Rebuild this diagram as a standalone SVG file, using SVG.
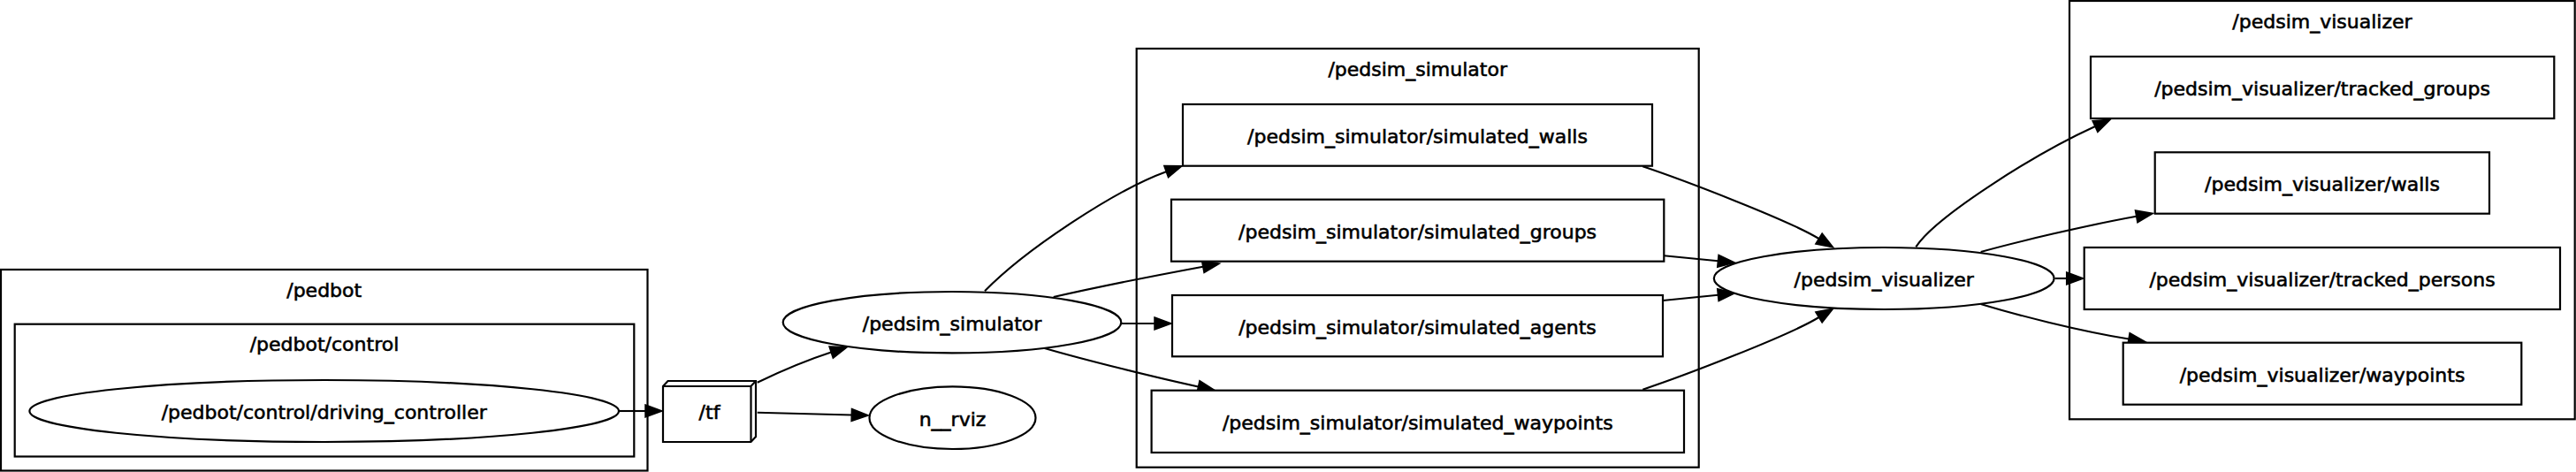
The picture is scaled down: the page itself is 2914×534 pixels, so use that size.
<svg xmlns="http://www.w3.org/2000/svg" width="2914" height="534" viewBox="0 0 2914 534">
<style>
.cl{fill:none;stroke:#000;stroke-width:2.2}
.nd{fill:#fff;stroke:#000;stroke-width:2.2}
.t{font-family:"DejaVu Sans",Verdana,sans-serif;font-size:22px;fill:#000;stroke:#000;stroke-width:0.6;text-anchor:middle}
.e{fill:none;stroke:#000;stroke-width:2.1;marker-end:url(#ah)}
</style>
<defs>
<marker id="ah" markerUnits="userSpaceOnUse" markerWidth="22" markerHeight="18" refX="0" refY="0" orient="auto" overflow="visible">
<path d="M0,-7 L19,0 L0,7 Z" fill="#000" stroke="#000" stroke-width="1.5"/>
</marker>
</defs>
<rect x="0" y="0" width="2914" height="534" fill="#fff"/>

<g id="cluster_pedbot">
<rect class="cl" x="1" y="305" width="731.5" height="227.5"/>
<text class="t" x="366.7" y="335.5">/pedbot</text>
</g>
<g id="cluster_pedbot_control">
<rect class="cl" x="16.7" y="366.7" width="700.6" height="149.8"/>
<text class="t" x="367" y="397">/pedbot/control</text>
</g>
<g id="cluster_pedsim_simulator">
<rect class="cl" x="1285.7" y="55" width="636" height="473.7"/>
<text class="t" x="1603.7" y="85.5">/pedsim_simulator</text>
</g>
<g id="cluster_pedsim_visualizer">
<rect class="cl" x="2341" y="1" width="571.7" height="473.3"/>
<text class="t" x="2627" y="32">/pedsim_visualizer</text>
</g>

<g id="connectors">
<path class="e" d="M700,465 L730,465"/>
<path class="e" d="M856.7,432.7 C875,424 905,410 940.2,398.6"/>
<path class="e" d="M856.7,466.7 L963.3,469.5"/>
<path class="e" d="M1114,329.3 C1160,282 1262.8,214.6 1319.2,194.2"/>
<path class="e" d="M1191.7,336 C1240,325 1300,313 1360.8,301.7"/>
<path class="e" d="M1268.5,366 L1306,366"/>
<path class="e" d="M1181.7,394 C1230,408 1310,427.7 1355.5,437.5"/>
<path class="e" d="M1858.3,188.3 C1903.3,203.3 2023.4,249.1 2057.5,270"/>
<path class="e" d="M1882.3,289.3 L1943.4,295.3"/>
<path class="e" d="M1881,340 L1943.4,333.7"/>
<path class="e" d="M1858.3,440.7 C1903.3,425.7 2023.4,379.9 2057.5,359"/>
<path class="e" d="M2167.3,279.3 C2190,245 2300,175 2370,143"/>
<path class="e" d="M2240.7,285 C2280,274 2360,255 2416.7,244.8"/>
<path class="e" d="M2324.5,315 L2337.7,315"/>
<path class="e" d="M2240.7,344 C2280,356 2350,374 2408,383.5"/>
</g>

<g id="node_driving_controller">
<ellipse class="nd" cx="366.7" cy="465" rx="333.3" ry="35"/>
<text class="t" x="366.7" y="474">/pedbot/control/driving_controller</text>
</g>
<g id="node_tf">
<path class="nd" d="M750,437 L755.5,431 L855,431 L855,494 L849.5,500 L750,500 Z"/>
<path class="cl" d="M750,437 L849.5,437 L855,431 M849.5,437 L849.5,500"/>
<text class="t" x="802.5" y="474">/tf</text>
</g>
<g id="node_pedsim_simulator">
<ellipse class="nd" cx="1077" cy="364.7" rx="191.3" ry="34.7"/>
<text class="t" x="1077" y="373.7">/pedsim_simulator</text>
</g>
<g id="node_n__rviz">
<ellipse class="nd" cx="1077.5" cy="472.7" rx="94" ry="35.3"/>
<text class="t" x="1077.5" y="481.7">n__rviz</text>
</g>
<g id="node_simulated_walls">
<rect class="nd" x="1338" y="118" width="531" height="69.7"/>
<text class="t" x="1603.5" y="161.8">/pedsim_simulator/simulated_walls</text>
</g>
<g id="node_simulated_groups">
<rect class="nd" x="1325" y="225.7" width="557.3" height="70"/>
<text class="t" x="1603.6" y="269.7">/pedsim_simulator/simulated_groups</text>
</g>
<g id="node_simulated_agents">
<rect class="nd" x="1326" y="334" width="555" height="69.3"/>
<text class="t" x="1603.5" y="377.7">/pedsim_simulator/simulated_agents</text>
</g>
<g id="node_simulated_waypoints">
<rect class="nd" x="1302.6" y="441.7" width="602.4" height="70.3"/>
<text class="t" x="1603.8" y="485.8">/pedsim_simulator/simulated_waypoints</text>
</g>
<g id="node_pedsim_visualizer">
<ellipse class="nd" cx="2131.2" cy="315" rx="192.4" ry="35"/>
<text class="t" x="2131.2" y="324">/pedsim_visualizer</text>
</g>
<g id="node_tracked_groups">
<rect class="nd" x="2365" y="64" width="524.3" height="70"/>
<text class="t" x="2627" y="108">/pedsim_visualizer/tracked_groups</text>
</g>
<g id="node_vis_walls">
<rect class="nd" x="2437.7" y="172.3" width="378.3" height="69.4"/>
<text class="t" x="2627" y="216">/pedsim_visualizer/walls</text>
</g>
<g id="node_tracked_persons">
<rect class="nd" x="2357.7" y="280" width="538.3" height="70"/>
<text class="t" x="2627" y="324">/pedsim_visualizer/tracked_persons</text>
</g>
<g id="node_vis_waypoints">
<rect class="nd" x="2401.7" y="387.7" width="450.6" height="70"/>
<text class="t" x="2627" y="431.7">/pedsim_visualizer/waypoints</text>
</g>
</svg>
